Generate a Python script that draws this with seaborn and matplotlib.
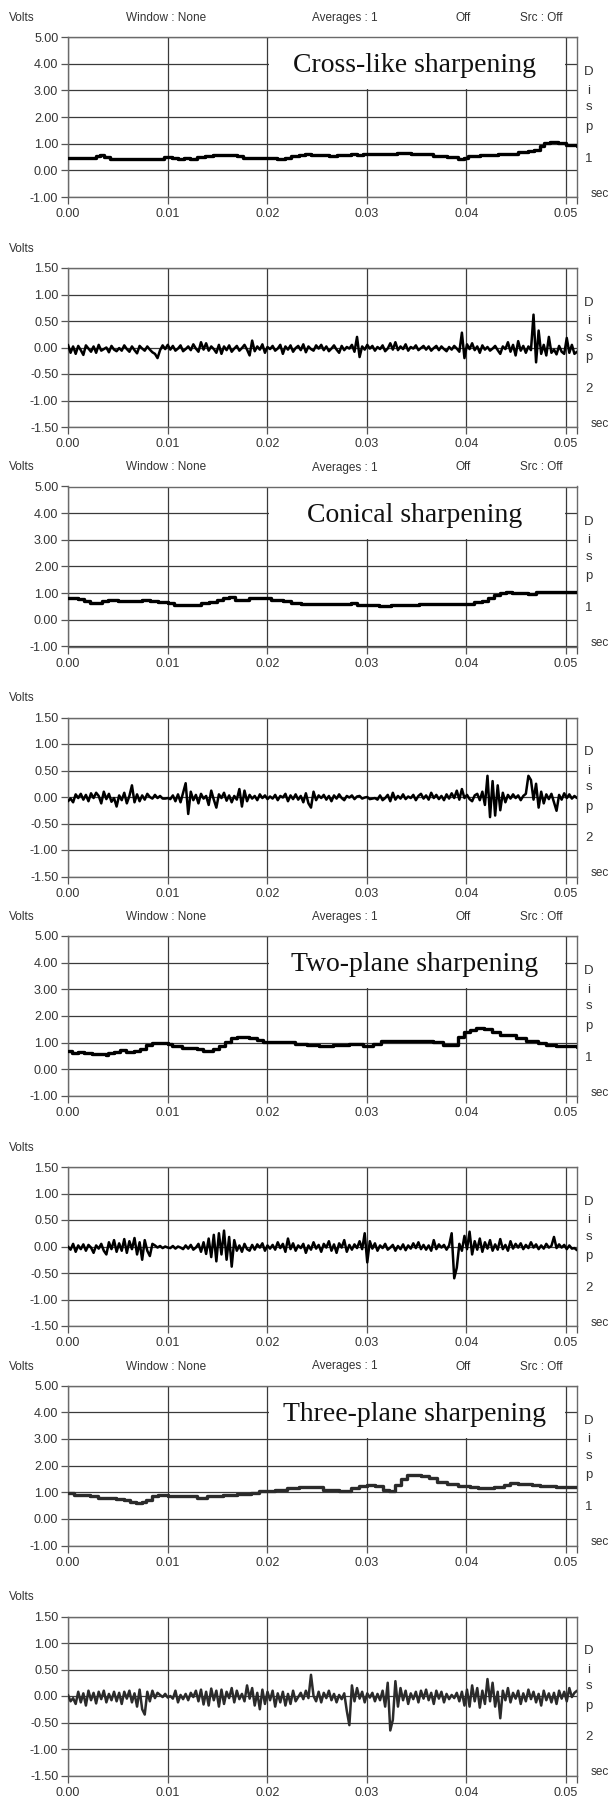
import numpy as np
import pandas as pd
import seaborn as sns
import matplotlib.pyplot as plt
from matplotlib.patches import Rectangle

# ---- data ----
titles = ['Cross-like sharpening', 'Conical sharpening', 'Two-plane sharpening', 'Three-plane sharpening']

# Disp 1 (slow trace), time in sec / volts
cross_t = [0.0000, 0.0020, 0.0028, 0.0032, 0.0036, 0.0042, 0.0092, 0.0096, 0.0104, 0.0110,
           0.0116, 0.0122, 0.0130, 0.0138, 0.0146, 0.0170, 0.0176, 0.0200, 0.0210, 0.0218,
           0.0224, 0.0232, 0.0238, 0.0244, 0.0262, 0.0270, 0.0284, 0.0290, 0.0296, 0.0330,
           0.0344, 0.0366, 0.0380, 0.0392, 0.0398, 0.0402, 0.0414, 0.0432, 0.0446, 0.0452,
           0.0462, 0.0468, 0.0474, 0.0478, 0.0484, 0.0492, 0.0500, 0.0511]
cross_v = [0.47, 0.45, 0.52, 0.56, 0.50, 0.42, 0.44, 0.50, 0.47, 0.42,
           0.47, 0.44, 0.50, 0.55, 0.58, 0.55, 0.48, 0.47, 0.42, 0.47,
           0.53, 0.58, 0.62, 0.58, 0.55, 0.59, 0.62, 0.57, 0.62, 0.65,
           0.62, 0.55, 0.50, 0.42, 0.48, 0.55, 0.58, 0.60, 0.62, 0.68,
           0.72, 0.78, 0.92, 1.02, 1.06, 1.02, 0.96, 0.93]

conical_t = [0.0000, 0.0010, 0.0016, 0.0022, 0.0034, 0.0040, 0.0050, 0.0062, 0.0074, 0.0082,
             0.0090, 0.0100, 0.0106, 0.0134, 0.0142, 0.0150, 0.0156, 0.0162, 0.0168, 0.0176,
             0.0182, 0.0198, 0.0204, 0.0216, 0.0224, 0.0234, 0.0284, 0.0290, 0.0302, 0.0312,
             0.0324, 0.0340, 0.0352, 0.0400, 0.0408, 0.0416, 0.0422, 0.0428, 0.0434, 0.0440,
             0.0446, 0.0462, 0.0470, 0.0478, 0.0511]
conical_v = [0.83, 0.78, 0.70, 0.64, 0.70, 0.76, 0.72, 0.70, 0.75, 0.72,
             0.68, 0.62, 0.57, 0.62, 0.68, 0.74, 0.80, 0.84, 0.76, 0.74,
             0.82, 0.83, 0.74, 0.70, 0.62, 0.60, 0.62, 0.56, 0.54, 0.50,
             0.55, 0.57, 0.61, 0.60, 0.66, 0.72, 0.82, 0.92, 1.00, 1.06,
             1.02, 0.98, 1.06, 1.04, 1.03]

twoplane_t = [0.0000, 0.0004, 0.0010, 0.0016, 0.0024, 0.0038, 0.0040, 0.0046, 0.0052, 0.0058,
              0.0066, 0.0072, 0.0078, 0.0084, 0.0100, 0.0104, 0.0114, 0.0130, 0.0136, 0.0146,
              0.0152, 0.0158, 0.0164, 0.0170, 0.0182, 0.0190, 0.0196, 0.0228, 0.0240, 0.0252,
              0.0266, 0.0282, 0.0296, 0.0306, 0.0314, 0.0320, 0.0366, 0.0376, 0.0386, 0.0392,
              0.0398, 0.0404, 0.0410, 0.0418, 0.0426, 0.0434, 0.0442, 0.0450, 0.0460, 0.0472,
              0.0480, 0.0490, 0.0511]
twoplane_v = [0.68, 0.62, 0.64, 0.60, 0.56, 0.53, 0.60, 0.66, 0.72, 0.64,
              0.68, 0.78, 0.90, 0.97, 0.95, 0.86, 0.80, 0.76, 0.70, 0.76,
              0.88, 1.02, 1.16, 1.22, 1.17, 1.10, 1.03, 0.96, 0.90, 0.86,
              0.92, 0.95, 0.88, 0.96, 1.08, 1.05, 1.02, 0.90, 0.92, 1.20,
              1.40, 1.48, 1.56, 1.52, 1.40, 1.30, 1.28, 1.18, 1.08, 1.00,
              0.92, 0.88, 0.82]

threeplane_t = [0.0000, 0.0006, 0.0022, 0.0030, 0.0048, 0.0056, 0.0062, 0.0068, 0.0074, 0.0078,
                0.0084, 0.0090, 0.0100, 0.0120, 0.0130, 0.0140, 0.0156, 0.0170, 0.0184, 0.0192,
                0.0208, 0.0220, 0.0232, 0.0256, 0.0272, 0.0284, 0.0292, 0.0300, 0.0308, 0.0316,
                0.0322, 0.0328, 0.0334, 0.0340, 0.0354, 0.0362, 0.0370, 0.0380, 0.0392, 0.0404,
                0.0412, 0.0428, 0.0438, 0.0444, 0.0452, 0.0466, 0.0474, 0.0490, 0.0511]
threeplane_v = [0.98, 0.90, 0.85, 0.80, 0.75, 0.70, 0.64, 0.60, 0.62, 0.70,
                0.84, 0.90, 0.86, 0.84, 0.78, 0.84, 0.88, 0.92, 0.98, 1.06,
                1.10, 1.14, 1.18, 1.10, 1.06, 1.14, 1.24, 1.28, 1.22, 1.10,
                1.04, 1.26, 1.48, 1.66, 1.60, 1.52, 1.40, 1.30, 1.24, 1.20,
                1.16, 1.20, 1.26, 1.36, 1.32, 1.28, 1.22, 1.20, 1.20]

# Disp 2 (fast trace), 200 samples over 0 .. 0.0511 s
cross_noise = [
    0.05, -0.10, 0.02, -0.12, 0.03, -0.05, -0.14, 0.04, -0.02, -0.08, 0.02, -0.10, 0.05, -0.06, -0.03, 0.00, -0.09, 0.03, -0.04, -0.07,
    -0.01, -0.06, 0.04, -0.03, -0.08, 0.02, -0.05, -0.11, 0.03, -0.02, -0.06, 0.02, -0.04, -0.09, -0.12, -0.20, -0.05, 0.04, -0.03, 0.05,
    -0.04, 0.03, -0.06, -0.02, 0.04, -0.07, -0.03, 0.02, -0.05, 0.06, -0.02, -0.08, 0.10, -0.04, 0.08, -0.06, 0.02, -0.03, -0.10, 0.05,
    -0.12, 0.02, -0.05, 0.04, -0.08, -0.02, 0.03, -0.06, -0.01, 0.05, -0.04, -0.15, 0.13, -0.07, 0.02, -0.04, 0.06, -0.10, 0.01, -0.03,
    0.03, -0.06, -0.02, 0.05, -0.12, 0.02, -0.04, 0.04, -0.08, -0.01, 0.03, -0.05, 0.06, -0.09, 0.02, -0.03, -0.06, 0.04, -0.02, 0.05,
    -0.05, 0.02, -0.07, -0.02, 0.04, -0.04, -0.10, 0.03, -0.05, 0.01, -0.02, 0.05, -0.08, 0.20, -0.18, 0.02, -0.04, 0.05, -0.02, 0.03,
    -0.06, 0.01, -0.03, 0.04, -0.07, -0.02, 0.08, -0.04, 0.10, -0.05, 0.02, -0.03, 0.06, -0.06, 0.01, -0.02, 0.04, -0.05, -0.01, 0.03,
    -0.04, 0.02, -0.06, -0.01, 0.03, -0.05, 0.02, -0.03, -0.07, 0.01, -0.04, 0.03, -0.02, -0.08, 0.28, -0.20, 0.06, -0.03, 0.08, -0.05,
    0.02, -0.10, 0.04, -0.04, 0.01, -0.06, -0.02, 0.03, -0.05, -0.12, 0.02, -0.03, 0.10, -0.08, 0.05, -0.15, 0.12, -0.06, 0.03, -0.10,
    0.02, -0.05, 0.62, -0.28, 0.32, -0.12, 0.05, -0.15, 0.20, -0.10, -0.04, -0.13, 0.03, -0.08, -0.12, 0.18, -0.10, 0.05, -0.12, -0.08]

conical_noise = [
    -0.08, -0.03, -0.10, 0.05, -0.02, 0.06, -0.05, 0.04, -0.08, 0.07, -0.02, 0.08, 0.02, -0.12, 0.10, -0.04, 0.06, -0.09, -0.02, -0.18,
    0.03, -0.06, 0.08, -0.12, 0.02, 0.22, -0.10, 0.05, -0.08, 0.03, -0.05, 0.06, 0.00, -0.03, 0.04, -0.02, 0.02, -0.03, -0.03, -0.02,
    -0.04, 0.03, -0.08, 0.05, -0.10, 0.08, 0.26, -0.32, 0.10, -0.06, 0.04, -0.12, 0.06, -0.03, 0.02, -0.15, 0.12, -0.05, -0.20, 0.05,
    -0.02, 0.08, -0.07, 0.03, -0.10, 0.02, -0.05, 0.15, -0.18, 0.12, -0.08, 0.04, -0.03, 0.02, -0.06, 0.05, -0.02, 0.03, -0.04, 0.01,
    -0.03, 0.04, -0.06, 0.02, -0.01, 0.06, -0.08, 0.03, -0.04, 0.05, -0.05, 0.02, -0.10, 0.07, -0.12, -0.20, 0.10, -0.06, 0.03, -0.02,
    0.04, -0.05, 0.02, -0.08, 0.03, -0.03, 0.05, -0.02, -0.06, 0.02, -0.01, 0.03, -0.04, 0.01, 0.02, -0.03, -0.01, 0.00, -0.04, -0.03,
    -0.02, -0.05, 0.03, -0.06, -0.02, 0.04, -0.08, 0.08, -0.05, 0.02, -0.03, 0.05, -0.04, 0.01, -0.02, 0.04, -0.06, 0.02, 0.06, -0.03,
    0.03, -0.05, 0.08, -0.02, 0.04, -0.04, 0.02, -0.06, 0.05, -0.03, 0.07, -0.02, 0.12, -0.05, 0.15, -0.02, 0.04, -0.04, -0.08, 0.03,
    0.06, -0.06, 0.10, -0.15, 0.40, -0.38, 0.30, -0.35, 0.22, -0.25, 0.08, -0.10, 0.04, -0.03, 0.05, -0.02, 0.03, -0.06, 0.02, 0.06,
    0.40, 0.32, -0.05, 0.25, -0.20, 0.10, -0.12, 0.05, -0.04, 0.06, -0.10, -0.26, 0.04, -0.05, 0.07, -0.02, 0.05, -0.03, 0.02, -0.02]

twoplane_noise = [
    0.00, -0.06, 0.05, -0.10, 0.02, -0.05, 0.04, -0.08, 0.03, -0.02, -0.12, 0.02, -0.04, 0.05, -0.08, -0.15, 0.08, -0.05, 0.12, -0.10,
    0.06, -0.08, 0.14, -0.12, 0.10, -0.05, 0.16, -0.15, 0.08, -0.25, 0.12, -0.08, -0.18, 0.05, 0.02, -0.02, 0.01, -0.03, 0.00, -0.02,
    -0.03, 0.01, -0.04, 0.00, -0.02, -0.05, 0.02, -0.04, 0.03, -0.06, -0.02, 0.05, -0.10, 0.08, -0.14, 0.15, -0.20, 0.22, -0.28, 0.25,
    -0.15, 0.30, -0.25, 0.18, -0.38, 0.12, -0.08, 0.02, -0.10, 0.05, -0.05, -0.08, 0.03, -0.06, 0.04, -0.02, 0.06, -0.08, 0.02, -0.04,
    0.03, -0.06, 0.08, -0.03, 0.05, -0.10, 0.15, -0.05, 0.06, -0.08, 0.02, -0.03, 0.05, -0.12, 0.02, -0.06, 0.08, -0.04, 0.03, -0.10,
    0.05, -0.02, 0.10, -0.08, 0.04, -0.12, 0.06, -0.02, 0.12, -0.10, 0.03, -0.06, 0.04, -0.03, 0.10, -0.05, 0.25, -0.30, 0.10, -0.04,
    0.06, -0.08, 0.02, -0.03, 0.05, -0.06, -0.02, 0.03, -0.08, 0.01, -0.05, 0.04, -0.07, 0.02, -0.04, 0.06, -0.03, 0.08, -0.05, 0.03,
    -0.06, 0.02, -0.08, 0.12, -0.05, 0.04, -0.02, 0.03, -0.06, 0.02, 0.25, -0.60, -0.40, 0.05, -0.08, 0.20, -0.05, 0.28, -0.15, 0.10,
    -0.06, 0.15, -0.10, 0.08, -0.04, 0.12, -0.08, 0.04, -0.06, 0.14, -0.05, 0.03, -0.08, 0.10, -0.04, 0.05, -0.02, 0.06, -0.05, 0.03,
    -0.03, 0.08, -0.02, 0.04, -0.05, 0.02, -0.04, 0.05, -0.02, 0.01, 0.18, -0.03, 0.04, -0.02, 0.03, -0.05, 0.02, -0.04, -0.03, -0.07]

threeplane_noise = [
    0.02, -0.10, -0.04, -0.15, 0.08, -0.12, 0.05, -0.18, 0.10, -0.08, 0.06, -0.14, 0.08, -0.06, 0.10, -0.12, 0.04, -0.08, 0.08, -0.10,
    0.06, -0.15, 0.08, -0.05, 0.10, -0.12, 0.05, -0.20, 0.12, -0.25, -0.35, 0.08, -0.10, 0.10, -0.04, 0.06, 0.02, -0.02, 0.04, -0.03,
    0.00, -0.05, 0.10, -0.12, 0.02, -0.06, 0.04, -0.08, 0.06, -0.02, 0.10, -0.10, 0.12, -0.16, 0.08, -0.18, 0.14, -0.08, 0.10, -0.20,
    0.12, -0.15, 0.08, -0.04, 0.15, -0.12, 0.10, -0.06, 0.04, -0.10, 0.20, -0.05, 0.15, -0.18, 0.06, -0.25, 0.12, -0.15, 0.08, -0.08,
    0.10, -0.20, 0.05, -0.12, 0.08, -0.18, 0.04, -0.15, 0.10, -0.10, -0.02, 0.06, -0.06, 0.10, -0.04, 0.40, 0.00, -0.10, 0.08, -0.12,
    0.06, -0.04, 0.10, -0.08, 0.04, -0.12, 0.02, -0.06, 0.05, -0.28, -0.55, 0.20, -0.10, 0.15, -0.05, 0.08, -0.12, 0.05, -0.03, 0.06,
    -0.10, 0.04, -0.08, 0.10, -0.20, 0.25, -0.65, -0.45, 0.28, -0.20, 0.15, -0.08, 0.10, -0.15, 0.05, -0.06, 0.08, -0.12, 0.10, -0.05,
    0.12, -0.08, 0.06, -0.15, 0.10, -0.05, 0.08, -0.12, 0.04, -0.06, 0.02, -0.04, 0.06, -0.10, 0.08, -0.18, 0.12, -0.20, 0.20, -0.10,
    0.15, -0.22, 0.10, -0.15, 0.32, -0.10, 0.25, -0.20, 0.08, -0.42, 0.10, -0.08, 0.15, -0.12, 0.06, -0.05, 0.10, -0.15, 0.05, -0.10,
    0.12, -0.06, 0.08, -0.12, 0.04, -0.18, 0.10, -0.08, 0.05, -0.12, 0.06, -0.15, 0.10, -0.05, 0.08, -0.10, 0.15, -0.02, 0.06, 0.10]

x_ticks = [0.00, 0.01, 0.02, 0.03, 0.04, 0.05]
y_ticks_1 = [-1, 0, 1, 2, 3, 4, 5]
y_ticks_2 = [-1.5, -1.0, -0.5, 0.0, 0.5, 1.0, 1.5]
header = [('Window : None', 166), ('Averages : 1', 345), ('Off', 463), ('Src : Off', 541)]
#%%
sns.set_style('white')
plt.rcParams['font.family'] = ['Liberation Sans', 'DejaVu Sans']

W, H = 611, 1798
fig = plt.figure(figsize=(W / 100, H / 100), dpi=100)
x_max = 0.0511
period = 449.5
slow = [(cross_t, cross_v), (conical_t, conical_v), (twoplane_t, twoplane_v), (threeplane_t, threeplane_v)]
fast = [cross_noise, conical_noise, twoplane_noise, threeplane_noise]
t_fast = np.linspace(0, x_max, len(cross_noise))
grid_c = '#3a3a3a'
txt_c = '#333333'


def style_axes(ax, yticks, ylim, disp):
    ax.set_xlim(0, x_max)
    ax.set_ylim(ylim)
    ax.set_xticks(x_ticks)
    ax.set_xticklabels(['%.2f' % v for v in x_ticks])
    ax.set_xticks([x_max], minor=True)
    ax.set_yticks(yticks)
    ax.set_yticklabels(['%.2f' % v for v in yticks])
    ax.set_axisbelow(True)
    ax.grid(True, color=grid_c, lw=0.9)
    ax.set_xlabel('')
    ax.set_ylabel('')
    for s in ax.spines.values():
        s.set_color('#6a6a6a')
        s.set_linewidth(1.0)
    ax.tick_params(axis='both', which='both', direction='out', length=5, width=0.9,
                   color='#555555', labelsize=9, labelcolor=txt_c, pad=2,
                   left=True, bottom=True, right=False, top=False)
    ax.tick_params(axis='x', pad=3)
    fr = [0.22, 0.335, 0.44, 0.56, 0.76]
    for ch, f in zip(['D', 'i', 's', 'p', disp], fr):
        ax.text(1.0236, 1 - f, ch, transform=ax.transAxes, ha='center', va='center',
                fontsize=9.5, color=txt_c)
    ax.text(1.045, 0.02, 'sec', transform=ax.transAxes, ha='center', va='center',
            fontsize=8.5, color=txt_c)


for k in range(4):
    # slow trace panel
    top = 37 + k * period
    ax1 = fig.add_axes([68 / W, 1 - (top + 160) / H, 509 / W, 160 / H])
    t, v = slow[k]
    df1 = pd.DataFrame({'t': t, 'v': v})
    lc = '#2b2b2b' if k == 3 else 'black'
    sns.lineplot(data=df1, x='t', y='v', ax=ax1, color=lc, lw=2.4,
                 drawstyle='steps-post', estimator=None, zorder=3)
    style_axes(ax1, y_ticks_1, (-1, 5), '1')
    ax1.add_patch(Rectangle((0.02015, 3.04), 0.0297, 2.1, facecolor='white',
                            edgecolor='none', zorder=1))
    ax1.text(0.0348, 3.68, titles[k], family=['Liberation Serif', 'DejaVu Serif'],
             fontsize=20, ha='center', va='baseline', color='#111111', zorder=4)
    yh = 1 - (top - 16) / H
    fig.text(9 / W, yh, 'Volts', ha='left', va='baseline', fontsize=8.5, color=txt_c)
    for lab, xp in header:
        fig.text(xp / W, yh, lab, ha='center', va='baseline', fontsize=8.5, color=txt_c)

    # fast trace panel
    top2 = 268 + k * period
    ax2 = fig.add_axes([68 / W, 1 - (top2 + 159) / H, 509 / W, 159 / H])
    df2 = pd.DataFrame({'t': t_fast, 'v': fast[k]})
    sns.lineplot(data=df2, x='t', y='v', ax=ax2, color=lc, lw=1.8,
                 estimator=None, zorder=3)
    style_axes(ax2, y_ticks_2, (-1.5, 1.5), '2')
    fig.text(9 / W, 1 - (top2 - 16) / H, 'Volts', ha='left', va='baseline',
             fontsize=8.5, color=txt_c)

plt.savefig('out.png', dpi=100)
